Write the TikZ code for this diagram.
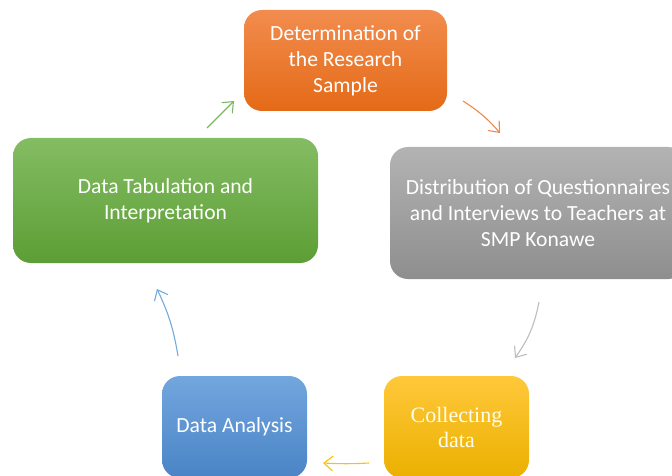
\documentclass[tikz,border=0pt]{standalone}
\usepackage{fontspec}
\setmainfont{Carlito}
\newfontfamily\serifface{Liberation Serif}
\usetikzlibrary{arrows.meta}
\definecolor{orA}{HTML}{F28C4E}
\definecolor{orB}{HTML}{E46A17}
\definecolor{grA}{HTML}{B3B3B3}
\definecolor{grB}{HTML}{8E8E8E}
\definecolor{gnA}{HTML}{84BC63}
\definecolor{gnB}{HTML}{5C9E35}
\definecolor{ylA}{HTML}{FFC83A}
\definecolor{ylB}{HTML}{EBB000}
\definecolor{blA}{HTML}{72A6DE}
\definecolor{blB}{HTML}{4A84C6}
\definecolor{arO}{HTML}{F0894A}
\definecolor{arG}{HTML}{BDBDBD}
\definecolor{arY}{HTML}{FFC000}
\definecolor{arB}{HTML}{73AADD}
\definecolor{arN}{HTML}{7CB862}
\tikzset{
  box/.style={rounded corners=18pt, align=center, text=white, font=\fontsize{21.6}{26}\selectfont, inner sep=0pt},
  conn/.style={line width=1.1pt, -{Straight Barb[length=9pt,width=15pt,line width=1.1pt]}}
}
\begin{document}
\begin{tikzpicture}[x=1pt,y=-1pt]
\useasboundingbox (0,0) rectangle (672,476);
\clip (0,0) rectangle (672,476);
\node[box, top color=orA, bottom color=orB, minimum width=203pt, minimum height=101pt] (det) at (345.5,60.5) {Determination of\\the Research\\Sample};
\node[box, top color=grA, bottom color=grB, minimum width=296pt, minimum height=132pt] (dist) at (538,213) {Distribution of Questionnaires\\and Interviews to Teachers at\\SMP Konawe};
\node[box, top color=ylA, bottom color=ylB, minimum width=145pt, minimum height=102pt, font=\serifface\fontsize{22}{25}\selectfont, text=white!92!yellow] (col) at (456.5,427) {Collecting\\data};
\node[box, top color=blA, bottom color=blB, minimum width=145pt, minimum height=102pt] (ana) at (234.5,427) {Data Analysis};
\node[box, top color=gnA, bottom color=gnB, minimum width=305pt, minimum height=125pt] (tab) at (165.5,200.5) {Data Tabulation and\\Interpretation};
\coordinate (a1s) at (463,101);
\coordinate (a1e) at (500,133);
\coordinate (a2s) at (539,302);
\coordinate (a2e) at (515,358);
\coordinate (a3s) at (369,463);
\coordinate (a3e) at (323,463);
\coordinate (a4s) at (178,356);
\coordinate (a4e) at (157,289);
\coordinate (a5s) at (207,128);
\coordinate (a5e) at (234,101);
\draw[conn, arO] (a1s) to[bend left=8] (a1e);
\draw[conn, arG] (a2s) to[bend left=12] (a2e);
\draw[conn, arY] (a3s) to[bend left=3] (a3e);
\draw[conn, arB] (a4s) to[bend right=8] (a4e);
\draw[conn, arN] (a5s) -- (a5e);
\end{tikzpicture}
\end{document}
